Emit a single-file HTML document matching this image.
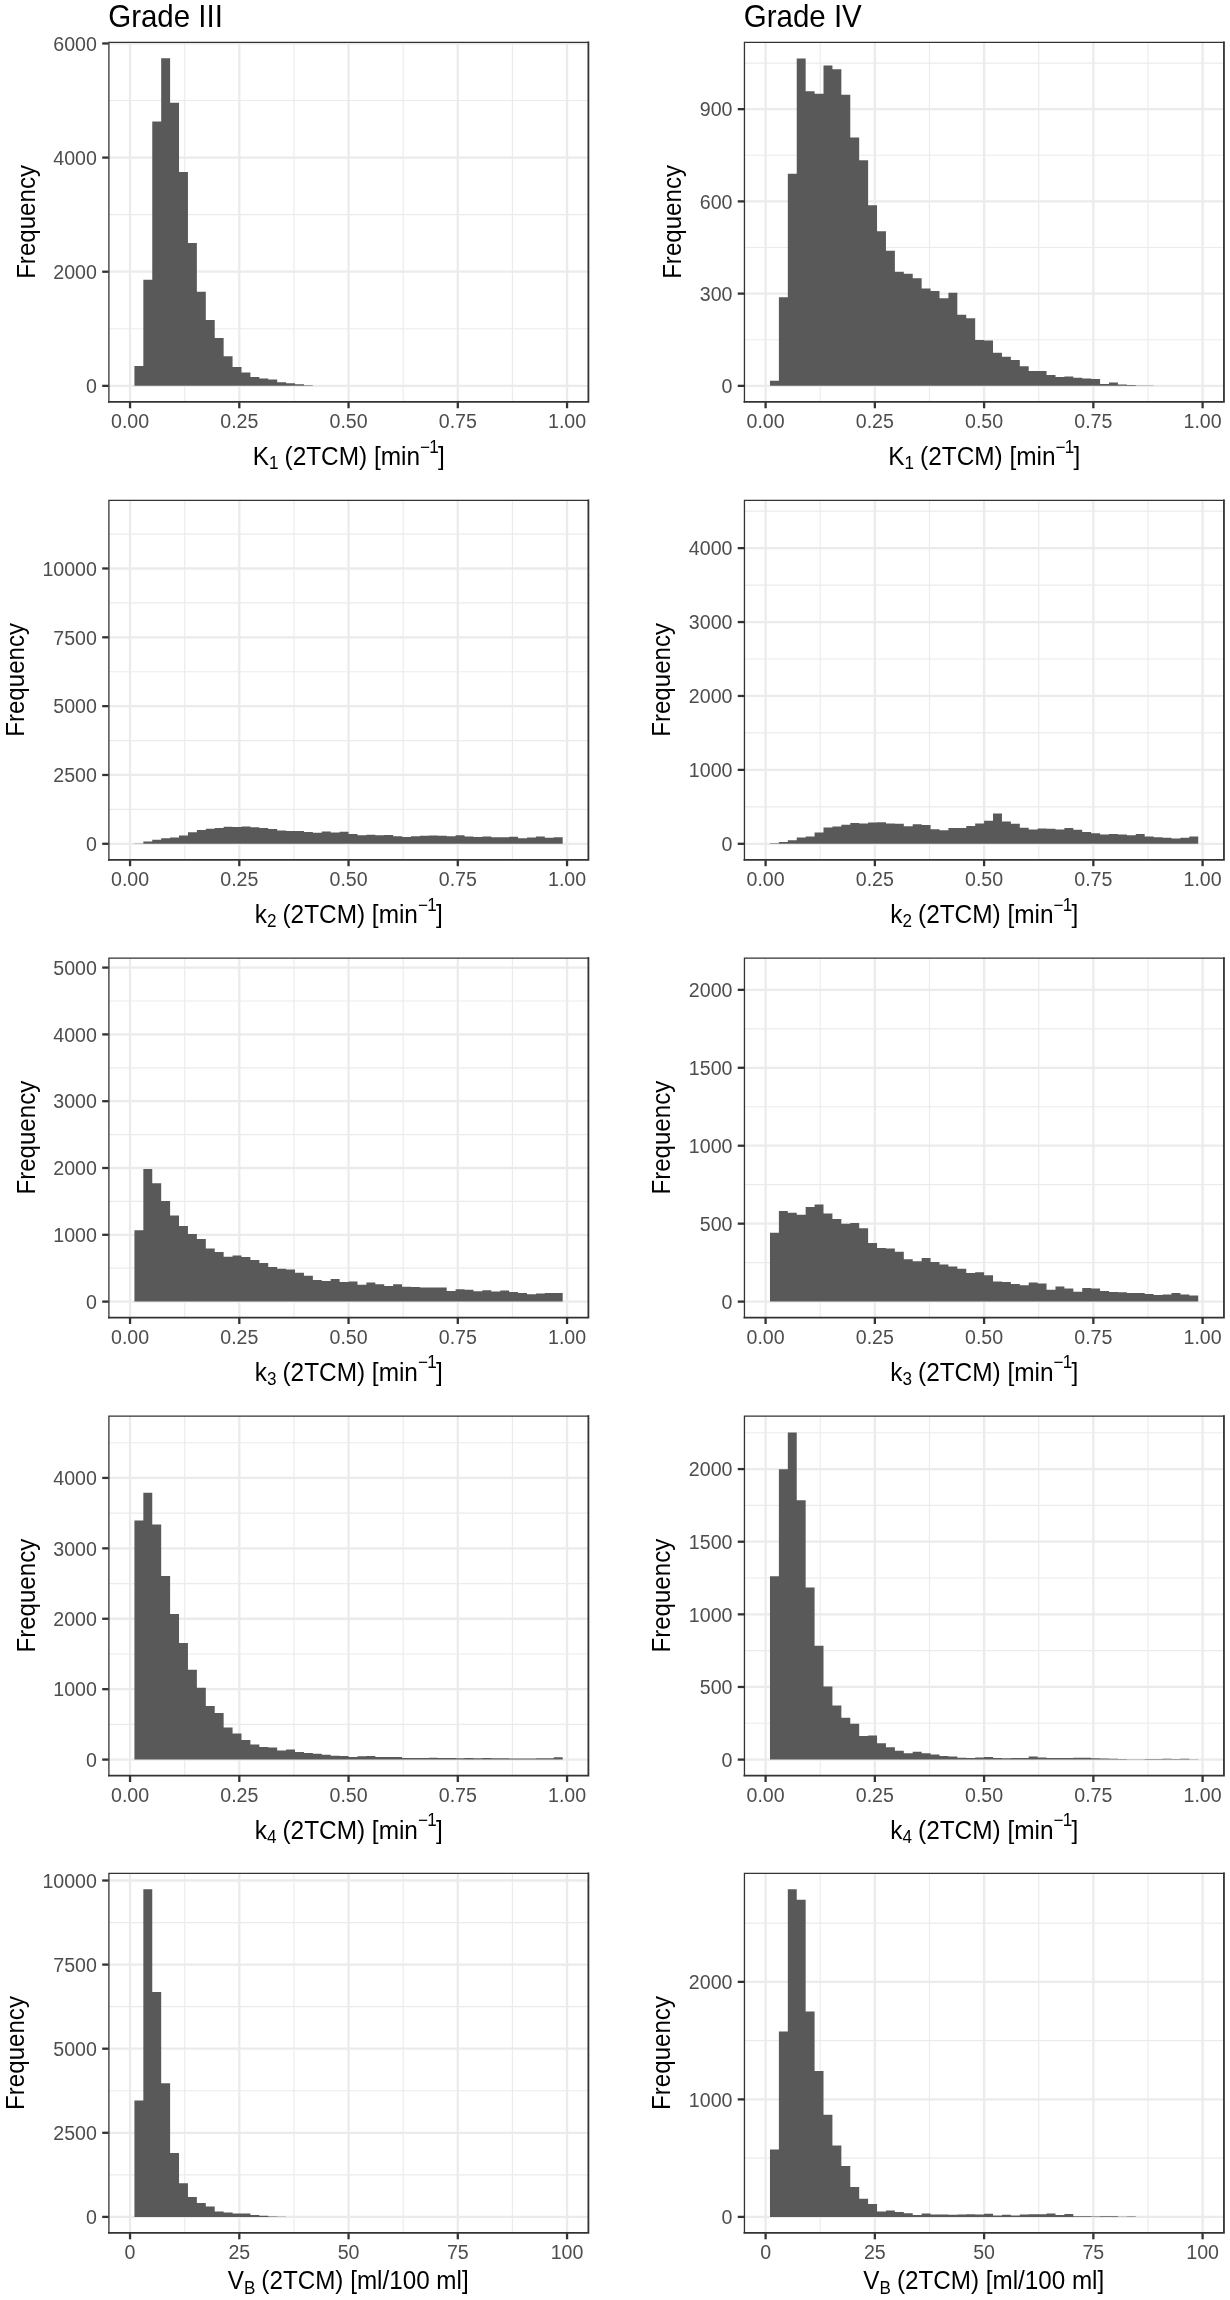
<!DOCTYPE html>
<html><head><meta charset="utf-8"><title>Histograms</title>
<style>
html,body{margin:0;padding:0;background:#ffffff;}
body{width:1230px;height:2300px;overflow:hidden;font-family:"Liberation Sans",sans-serif;}
svg{display:block;will-change:transform;}
</style></head><body>
<svg width="1230" height="2300" viewBox="0 0 1230 2300" font-family="'Liberation Sans', sans-serif">
<rect x="0" y="0" width="1230" height="2300" fill="#ffffff"/>
<g>
<g stroke="#ebebeb"><line x1="108.9" x2="588.3" y1="328.79" y2="328.79" stroke-width="1.16"/><line x1="108.9" x2="588.3" y1="214.66" y2="214.66" stroke-width="1.16"/><line x1="108.9" x2="588.3" y1="100.53" y2="100.53" stroke-width="1.16"/><line x1="184.68" x2="184.68" y1="42.35" y2="401.5" stroke-width="1.16"/><line x1="293.93" x2="293.93" y1="42.35" y2="401.5" stroke-width="1.16"/><line x1="403.18" x2="403.18" y1="42.35" y2="401.5" stroke-width="1.16"/><line x1="512.42" x2="512.42" y1="42.35" y2="401.5" stroke-width="1.16"/><line x1="108.9" x2="588.3" y1="385.85" y2="385.85" stroke-width="2.3"/><line x1="108.9" x2="588.3" y1="271.72" y2="271.72" stroke-width="2.3"/><line x1="108.9" x2="588.3" y1="157.59" y2="157.59" stroke-width="2.3"/><line x1="108.9" x2="588.3" y1="43.46" y2="43.46" stroke-width="2.3"/><line x1="130.05" x2="130.05" y1="42.35" y2="401.5" stroke-width="2.3"/><line x1="239.3" x2="239.3" y1="42.35" y2="401.5" stroke-width="2.3"/><line x1="348.55" x2="348.55" y1="42.35" y2="401.5" stroke-width="2.3"/><line x1="457.8" x2="457.8" y1="42.35" y2="401.5" stroke-width="2.3"/><line x1="567.05" x2="567.05" y1="42.35" y2="401.5" stroke-width="2.3"/></g>
<path d="M134.42 385.85V365.95H143.34V279.75H152.26V121.45H161.19V58.35H170.11V102.65H179.03V172.05H187.95V242.95H196.87V291.75H205.8V320.05H214.72V338.05H223.64V356.35H232.56V367.05H241.49V372.45H250.41V376.95H259.33V378.55H268.25V379.55H277.17V382.25H286.1V383.35H295.02V384.25H303.94V385.15H312.86V385.85H321.78V385.85H330.71V385.85H339.63V385.85H348.55V385.85H357.47V385.85H366.39V385.85H375.32V385.85H384.24V385.85H393.16V385.85H402.08V385.85H411V385.85H419.93V385.85H428.85V385.85H437.77V385.85H446.69V385.85H455.62V385.85H464.54V385.85H473.46V385.85H482.38V385.85H491.3V385.85H500.23V385.85H509.15V385.85H518.07V385.85H526.99V385.85H535.91V385.85H544.84V385.85H553.76V385.85H562.68V385.85Z" fill="#595959"/>
<g stroke="#333333" stroke-linecap="square"><path d="M108.9 401.85V42.35H588.3" fill="none" stroke-width="1.3"/><path d="M108.9 401.85H588.4V42.35" fill="none" stroke-width="1.8"/></g>
<g stroke="#333333" stroke-width="2.3"><line x1="102.2" x2="108.6" y1="385.85" y2="385.85"/><line x1="102.2" x2="108.6" y1="271.72" y2="271.72"/><line x1="102.2" x2="108.6" y1="157.59" y2="157.59"/><line x1="102.2" x2="108.6" y1="43.46" y2="43.46"/><line x1="130.05" x2="130.05" y1="402.25" y2="408.25"/><line x1="239.3" x2="239.3" y1="402.25" y2="408.25"/><line x1="348.55" x2="348.55" y1="402.25" y2="408.25"/><line x1="457.8" x2="457.8" y1="402.25" y2="408.25"/><line x1="567.05" x2="567.05" y1="402.25" y2="408.25"/></g>
<g fill="#4d4d4d" font-size="19.6"><text transform="translate(96.9 393.05) scale(1 1.04)" text-anchor="end">0</text><text transform="translate(96.9 278.92) scale(1 1.04)" text-anchor="end">2000</text><text transform="translate(96.9 164.79) scale(1 1.04)" text-anchor="end">4000</text><text transform="translate(96.9 50.66) scale(1 1.04)" text-anchor="end">6000</text><text transform="translate(130.05 427.85) scale(1 1.04)" text-anchor="middle">0.00</text><text transform="translate(239.3 427.85) scale(1 1.04)" text-anchor="middle">0.25</text><text transform="translate(348.55 427.85) scale(1 1.04)" text-anchor="middle">0.50</text><text transform="translate(457.8 427.85) scale(1 1.04)" text-anchor="middle">0.75</text><text transform="translate(567.05 427.85) scale(1 1.04)" text-anchor="middle">1.00</text></g>
<text transform="translate(348.75 464.95) scale(1 1.04)" text-anchor="middle" font-size="24.4" fill="#000">K<tspan font-size="17.08" dy="4.13" letter-spacing="-0.7">1</tspan><tspan dy="-4.13"> (2TCM) [min</tspan><tspan font-size="17.08" dy="-11.92" letter-spacing="-0.7">−1</tspan><tspan dy="11.92" dx="0">]</tspan></text>
<text transform="translate(34.51 221.93) rotate(-90) scale(1 1.04)" text-anchor="middle" font-size="24.1" fill="#000">Frequency</text>
<text transform="translate(108.2 27.4) scale(1 1.04)" font-size="29.5" fill="#000">Grade III</text>
</g>
<g>
<g stroke="#ebebeb"><line x1="744.45" x2="1223.85" y1="339.74" y2="339.74" stroke-width="1.16"/><line x1="744.45" x2="1223.85" y1="247.51" y2="247.51" stroke-width="1.16"/><line x1="744.45" x2="1223.85" y1="155.28" y2="155.28" stroke-width="1.16"/><line x1="744.45" x2="1223.85" y1="63.05" y2="63.05" stroke-width="1.16"/><line x1="820.22" x2="820.22" y1="42.35" y2="401.5" stroke-width="1.16"/><line x1="929.47" x2="929.47" y1="42.35" y2="401.5" stroke-width="1.16"/><line x1="1038.72" x2="1038.72" y1="42.35" y2="401.5" stroke-width="1.16"/><line x1="1147.97" x2="1147.97" y1="42.35" y2="401.5" stroke-width="1.16"/><line x1="744.45" x2="1223.85" y1="385.85" y2="385.85" stroke-width="2.3"/><line x1="744.45" x2="1223.85" y1="293.62" y2="293.62" stroke-width="2.3"/><line x1="744.45" x2="1223.85" y1="201.39" y2="201.39" stroke-width="2.3"/><line x1="744.45" x2="1223.85" y1="109.16" y2="109.16" stroke-width="2.3"/><line x1="765.6" x2="765.6" y1="42.35" y2="401.5" stroke-width="2.3"/><line x1="874.85" x2="874.85" y1="42.35" y2="401.5" stroke-width="2.3"/><line x1="984.1" x2="984.1" y1="42.35" y2="401.5" stroke-width="2.3"/><line x1="1093.35" x2="1093.35" y1="42.35" y2="401.5" stroke-width="2.3"/><line x1="1202.6" x2="1202.6" y1="42.35" y2="401.5" stroke-width="2.3"/></g>
<path d="M769.97 385.85V380.85H778.89V297.25H787.81V173.65H796.74V58.45H805.66V91.35H814.58V93.85H823.5V65.45H832.42V69.25H841.35V94.75H850.27V137.55H859.19V160.25H868.11V205.15H877.04V231.15H885.96V250.75H894.88V271.75H903.8V273.85H912.72V278.35H921.65V288.55H930.57V291.05H939.49V298.35H948.41V292.65H957.33V314.85H966.26V318.25H975.18V340.05H984.1V340.55H993.02V352.65H1001.94V356.85H1010.87V360.05H1019.79V366.35H1028.71V371.05H1037.63V371.05H1046.55V375.05H1055.48V376.95H1064.4V376.55H1073.32V377.85H1082.24V378.45H1091.16V379.05H1100.09V383.95H1109.01V382.45H1117.93V384.55H1126.85V385.05H1135.78V385.55H1144.7V385.45H1153.62V385.85H1162.54V385.85H1171.46V385.85H1180.39V385.85H1189.31V385.85H1198.23V385.85Z" fill="#595959"/>
<g stroke="#333333" stroke-linecap="square"><path d="M744.45 401.85V42.35H1223.85" fill="none" stroke-width="1.3"/><path d="M744.45 401.85H1223.95V42.35" fill="none" stroke-width="1.8"/></g>
<g stroke="#333333" stroke-width="2.3"><line x1="737.75" x2="744.15" y1="385.85" y2="385.85"/><line x1="737.75" x2="744.15" y1="293.62" y2="293.62"/><line x1="737.75" x2="744.15" y1="201.39" y2="201.39"/><line x1="737.75" x2="744.15" y1="109.16" y2="109.16"/><line x1="765.6" x2="765.6" y1="402.25" y2="408.25"/><line x1="874.85" x2="874.85" y1="402.25" y2="408.25"/><line x1="984.1" x2="984.1" y1="402.25" y2="408.25"/><line x1="1093.35" x2="1093.35" y1="402.25" y2="408.25"/><line x1="1202.6" x2="1202.6" y1="402.25" y2="408.25"/></g>
<g fill="#4d4d4d" font-size="19.6"><text transform="translate(732.45 393.05) scale(1 1.04)" text-anchor="end">0</text><text transform="translate(732.45 300.82) scale(1 1.04)" text-anchor="end">300</text><text transform="translate(732.45 208.59) scale(1 1.04)" text-anchor="end">600</text><text transform="translate(732.45 116.36) scale(1 1.04)" text-anchor="end">900</text><text transform="translate(765.6 427.85) scale(1 1.04)" text-anchor="middle">0.00</text><text transform="translate(874.85 427.85) scale(1 1.04)" text-anchor="middle">0.25</text><text transform="translate(984.1 427.85) scale(1 1.04)" text-anchor="middle">0.50</text><text transform="translate(1093.35 427.85) scale(1 1.04)" text-anchor="middle">0.75</text><text transform="translate(1202.6 427.85) scale(1 1.04)" text-anchor="middle">1.00</text></g>
<text transform="translate(984.3 464.95) scale(1 1.04)" text-anchor="middle" font-size="24.4" fill="#000">K<tspan font-size="17.08" dy="4.13" letter-spacing="-0.7">1</tspan><tspan dy="-4.13"> (2TCM) [min</tspan><tspan font-size="17.08" dy="-11.92" letter-spacing="-0.7">−1</tspan><tspan dy="11.92" dx="0">]</tspan></text>
<text transform="translate(680.96 221.93) rotate(-90) scale(1 1.04)" text-anchor="middle" font-size="24.1" fill="#000">Frequency</text>
<text transform="translate(743.75 27.4) scale(1 1.04)" font-size="29.5" fill="#000">Grade IV</text>
</g>
<g>
<g stroke="#ebebeb"><line x1="108.9" x2="588.3" y1="809.38" y2="809.38" stroke-width="1.16"/><line x1="108.9" x2="588.3" y1="740.55" y2="740.55" stroke-width="1.16"/><line x1="108.9" x2="588.3" y1="671.72" y2="671.72" stroke-width="1.16"/><line x1="108.9" x2="588.3" y1="602.89" y2="602.89" stroke-width="1.16"/><line x1="108.9" x2="588.3" y1="534.06" y2="534.06" stroke-width="1.16"/><line x1="184.68" x2="184.68" y1="500.3" y2="859.45" stroke-width="1.16"/><line x1="293.93" x2="293.93" y1="500.3" y2="859.45" stroke-width="1.16"/><line x1="403.18" x2="403.18" y1="500.3" y2="859.45" stroke-width="1.16"/><line x1="512.42" x2="512.42" y1="500.3" y2="859.45" stroke-width="1.16"/><line x1="108.9" x2="588.3" y1="843.8" y2="843.8" stroke-width="2.3"/><line x1="108.9" x2="588.3" y1="774.97" y2="774.97" stroke-width="2.3"/><line x1="108.9" x2="588.3" y1="706.14" y2="706.14" stroke-width="2.3"/><line x1="108.9" x2="588.3" y1="637.31" y2="637.31" stroke-width="2.3"/><line x1="108.9" x2="588.3" y1="568.48" y2="568.48" stroke-width="2.3"/><line x1="130.05" x2="130.05" y1="500.3" y2="859.45" stroke-width="2.3"/><line x1="239.3" x2="239.3" y1="500.3" y2="859.45" stroke-width="2.3"/><line x1="348.55" x2="348.55" y1="500.3" y2="859.45" stroke-width="2.3"/><line x1="457.8" x2="457.8" y1="500.3" y2="859.45" stroke-width="2.3"/><line x1="567.05" x2="567.05" y1="500.3" y2="859.45" stroke-width="2.3"/></g>
<path d="M134.42 843.8V843.4H143.34V841.5H152.26V839.7H161.19V838.3H170.11V837.4H179.03V835.6H187.95V832.2H196.87V830H205.8V828.8H214.72V827.9H223.64V826.8H232.56V827H241.49V826.4H250.41V827.2H259.33V828.1H268.25V829H277.17V830.4H286.1V830.9H295.02V831.1H303.94V832H312.86V832.7H321.78V831.5H330.71V832.4H339.63V831.7H348.55V833.9H357.47V835.3H366.39V834.7H375.32V835.3H384.24V834.9H393.16V836.2H402.08V837H411V836.2H419.93V835.8H428.85V835.6H437.77V835.8H446.69V836.2H455.62V835.3H464.54V836.4H473.46V837H482.38V836.4H491.3V837.2H500.23V837.2H509.15V836.8H518.07V838.3H526.99V837.5H535.91V836.6H544.84V837.7H553.76V837.2H562.68V843.8Z" fill="#595959"/>
<g stroke="#333333" stroke-linecap="square"><path d="M108.9 859.8V500.3H588.3" fill="none" stroke-width="1.3"/><path d="M108.9 859.8H588.4V500.3" fill="none" stroke-width="1.8"/></g>
<g stroke="#333333" stroke-width="2.3"><line x1="102.2" x2="108.6" y1="843.8" y2="843.8"/><line x1="102.2" x2="108.6" y1="774.97" y2="774.97"/><line x1="102.2" x2="108.6" y1="706.14" y2="706.14"/><line x1="102.2" x2="108.6" y1="637.31" y2="637.31"/><line x1="102.2" x2="108.6" y1="568.48" y2="568.48"/><line x1="130.05" x2="130.05" y1="860.2" y2="866.2"/><line x1="239.3" x2="239.3" y1="860.2" y2="866.2"/><line x1="348.55" x2="348.55" y1="860.2" y2="866.2"/><line x1="457.8" x2="457.8" y1="860.2" y2="866.2"/><line x1="567.05" x2="567.05" y1="860.2" y2="866.2"/></g>
<g fill="#4d4d4d" font-size="19.6"><text transform="translate(96.9 851) scale(1 1.04)" text-anchor="end">0</text><text transform="translate(96.9 782.17) scale(1 1.04)" text-anchor="end">2500</text><text transform="translate(96.9 713.34) scale(1 1.04)" text-anchor="end">5000</text><text transform="translate(96.9 644.51) scale(1 1.04)" text-anchor="end">7500</text><text transform="translate(96.9 575.68) scale(1 1.04)" text-anchor="end">10000</text><text transform="translate(130.05 885.8) scale(1 1.04)" text-anchor="middle">0.00</text><text transform="translate(239.3 885.8) scale(1 1.04)" text-anchor="middle">0.25</text><text transform="translate(348.55 885.8) scale(1 1.04)" text-anchor="middle">0.50</text><text transform="translate(457.8 885.8) scale(1 1.04)" text-anchor="middle">0.75</text><text transform="translate(567.05 885.8) scale(1 1.04)" text-anchor="middle">1.00</text></g>
<text transform="translate(348.75 922.9) scale(1 1.04)" text-anchor="middle" font-size="24.4" fill="#000">k<tspan font-size="17.08" dy="4.13" letter-spacing="-0.7">2</tspan><tspan dy="-4.13"> (2TCM) [min</tspan><tspan font-size="17.08" dy="-11.92" letter-spacing="-0.7">−1</tspan><tspan dy="11.92" dx="0">]</tspan></text>
<text transform="translate(23.61 679.88) rotate(-90) scale(1 1.04)" text-anchor="middle" font-size="24.1" fill="#000">Frequency</text>
</g>
<g>
<g stroke="#ebebeb"><line x1="744.45" x2="1223.85" y1="806.84" y2="806.84" stroke-width="1.16"/><line x1="744.45" x2="1223.85" y1="732.92" y2="732.92" stroke-width="1.16"/><line x1="744.45" x2="1223.85" y1="659" y2="659" stroke-width="1.16"/><line x1="744.45" x2="1223.85" y1="585.08" y2="585.08" stroke-width="1.16"/><line x1="744.45" x2="1223.85" y1="511.16" y2="511.16" stroke-width="1.16"/><line x1="820.22" x2="820.22" y1="500.3" y2="859.45" stroke-width="1.16"/><line x1="929.47" x2="929.47" y1="500.3" y2="859.45" stroke-width="1.16"/><line x1="1038.72" x2="1038.72" y1="500.3" y2="859.45" stroke-width="1.16"/><line x1="1147.97" x2="1147.97" y1="500.3" y2="859.45" stroke-width="1.16"/><line x1="744.45" x2="1223.85" y1="843.8" y2="843.8" stroke-width="2.3"/><line x1="744.45" x2="1223.85" y1="769.88" y2="769.88" stroke-width="2.3"/><line x1="744.45" x2="1223.85" y1="695.96" y2="695.96" stroke-width="2.3"/><line x1="744.45" x2="1223.85" y1="622.04" y2="622.04" stroke-width="2.3"/><line x1="744.45" x2="1223.85" y1="548.12" y2="548.12" stroke-width="2.3"/><line x1="765.6" x2="765.6" y1="500.3" y2="859.45" stroke-width="2.3"/><line x1="874.85" x2="874.85" y1="500.3" y2="859.45" stroke-width="2.3"/><line x1="984.1" x2="984.1" y1="500.3" y2="859.45" stroke-width="2.3"/><line x1="1093.35" x2="1093.35" y1="500.3" y2="859.45" stroke-width="2.3"/><line x1="1202.6" x2="1202.6" y1="500.3" y2="859.45" stroke-width="2.3"/></g>
<path d="M769.97 843.8V843.3H778.89V842H787.81V840.2H796.74V837.5H805.66V836.5H814.58V832.4H823.5V827.5H832.42V826.4H841.35V824.8H850.27V822.9H859.19V823.6H868.11V822.5H877.04V822.2H885.96V823.4H894.88V823.8H903.8V826.3H912.72V824.3H921.65V825H930.57V829.3H939.49V830.2H948.41V828.1H957.33V828.1H966.26V826.1H975.18V823.4H984.1V820.8H993.02V813.4H1001.94V821.4H1010.87V823.7H1019.79V827.7H1028.71V829.4H1037.63V828.4H1046.55V828.8H1055.48V829.4H1064.4V827.9H1073.32V829.8H1082.24V832H1091.16V833.2H1100.09V834.5H1109.01V833.9H1117.93V834.5H1126.85V835.3H1135.78V833.9H1144.7V836.4H1153.62V837.2H1162.54V837.7H1171.46V838.5H1180.39V837.7H1189.31V836.6H1198.23V843.8Z" fill="#595959"/>
<g stroke="#333333" stroke-linecap="square"><path d="M744.45 859.8V500.3H1223.85" fill="none" stroke-width="1.3"/><path d="M744.45 859.8H1223.95V500.3" fill="none" stroke-width="1.8"/></g>
<g stroke="#333333" stroke-width="2.3"><line x1="737.75" x2="744.15" y1="843.8" y2="843.8"/><line x1="737.75" x2="744.15" y1="769.88" y2="769.88"/><line x1="737.75" x2="744.15" y1="695.96" y2="695.96"/><line x1="737.75" x2="744.15" y1="622.04" y2="622.04"/><line x1="737.75" x2="744.15" y1="548.12" y2="548.12"/><line x1="765.6" x2="765.6" y1="860.2" y2="866.2"/><line x1="874.85" x2="874.85" y1="860.2" y2="866.2"/><line x1="984.1" x2="984.1" y1="860.2" y2="866.2"/><line x1="1093.35" x2="1093.35" y1="860.2" y2="866.2"/><line x1="1202.6" x2="1202.6" y1="860.2" y2="866.2"/></g>
<g fill="#4d4d4d" font-size="19.6"><text transform="translate(732.45 851) scale(1 1.04)" text-anchor="end">0</text><text transform="translate(732.45 777.08) scale(1 1.04)" text-anchor="end">1000</text><text transform="translate(732.45 703.16) scale(1 1.04)" text-anchor="end">2000</text><text transform="translate(732.45 629.24) scale(1 1.04)" text-anchor="end">3000</text><text transform="translate(732.45 555.32) scale(1 1.04)" text-anchor="end">4000</text><text transform="translate(765.6 885.8) scale(1 1.04)" text-anchor="middle">0.00</text><text transform="translate(874.85 885.8) scale(1 1.04)" text-anchor="middle">0.25</text><text transform="translate(984.1 885.8) scale(1 1.04)" text-anchor="middle">0.50</text><text transform="translate(1093.35 885.8) scale(1 1.04)" text-anchor="middle">0.75</text><text transform="translate(1202.6 885.8) scale(1 1.04)" text-anchor="middle">1.00</text></g>
<text transform="translate(984.3 922.9) scale(1 1.04)" text-anchor="middle" font-size="24.4" fill="#000">k<tspan font-size="17.08" dy="4.13" letter-spacing="-0.7">2</tspan><tspan dy="-4.13"> (2TCM) [min</tspan><tspan font-size="17.08" dy="-11.92" letter-spacing="-0.7">−1</tspan><tspan dy="11.92" dx="0">]</tspan></text>
<text transform="translate(670.06 679.88) rotate(-90) scale(1 1.04)" text-anchor="middle" font-size="24.1" fill="#000">Frequency</text>
</g>
<g>
<g stroke="#ebebeb"><line x1="108.9" x2="588.3" y1="1268.2" y2="1268.2" stroke-width="1.16"/><line x1="108.9" x2="588.3" y1="1201.4" y2="1201.4" stroke-width="1.16"/><line x1="108.9" x2="588.3" y1="1134.6" y2="1134.6" stroke-width="1.16"/><line x1="108.9" x2="588.3" y1="1067.8" y2="1067.8" stroke-width="1.16"/><line x1="108.9" x2="588.3" y1="1001" y2="1001" stroke-width="1.16"/><line x1="184.68" x2="184.68" y1="958.1" y2="1317.25" stroke-width="1.16"/><line x1="293.93" x2="293.93" y1="958.1" y2="1317.25" stroke-width="1.16"/><line x1="403.18" x2="403.18" y1="958.1" y2="1317.25" stroke-width="1.16"/><line x1="512.42" x2="512.42" y1="958.1" y2="1317.25" stroke-width="1.16"/><line x1="108.9" x2="588.3" y1="1301.6" y2="1301.6" stroke-width="2.3"/><line x1="108.9" x2="588.3" y1="1234.8" y2="1234.8" stroke-width="2.3"/><line x1="108.9" x2="588.3" y1="1168" y2="1168" stroke-width="2.3"/><line x1="108.9" x2="588.3" y1="1101.2" y2="1101.2" stroke-width="2.3"/><line x1="108.9" x2="588.3" y1="1034.4" y2="1034.4" stroke-width="2.3"/><line x1="108.9" x2="588.3" y1="967.6" y2="967.6" stroke-width="2.3"/><line x1="130.05" x2="130.05" y1="958.1" y2="1317.25" stroke-width="2.3"/><line x1="239.3" x2="239.3" y1="958.1" y2="1317.25" stroke-width="2.3"/><line x1="348.55" x2="348.55" y1="958.1" y2="1317.25" stroke-width="2.3"/><line x1="457.8" x2="457.8" y1="958.1" y2="1317.25" stroke-width="2.3"/><line x1="567.05" x2="567.05" y1="958.1" y2="1317.25" stroke-width="2.3"/></g>
<path d="M134.42 1301.6V1230.2H143.34V1169H152.26V1183.2H161.19V1201.1H170.11V1215.6H179.03V1225.9H187.95V1234H196.87V1239H205.8V1248.6H214.72V1252H223.64V1256.7H232.56V1255.6H241.49V1257.1H250.41V1260.1H259.33V1263.1H268.25V1266.9H277.17V1268.7H286.1V1269.6H295.02V1272.8H303.94V1275.7H312.86V1280H321.78V1281H330.71V1279.1H339.63V1282.1H348.55V1281.5H357.47V1284.7H366.39V1282.6H375.32V1284.3H384.24V1286H393.16V1284.3H402.08V1286.8H411V1287H419.93V1287.4H428.85V1287.6H437.77V1287.6H446.69V1291H455.62V1289.3H464.54V1289.8H473.46V1291.2H482.38V1290.2H491.3V1291.5H500.23V1290.4H509.15V1291.9H518.07V1293.1H526.99V1294.2H535.91V1293.4H544.84V1293.1H553.76V1293.1H562.68V1301.6Z" fill="#595959"/>
<g stroke="#333333" stroke-linecap="square"><path d="M108.9 1317.6V958.1H588.3" fill="none" stroke-width="1.3"/><path d="M108.9 1317.6H588.4V958.1" fill="none" stroke-width="1.8"/></g>
<g stroke="#333333" stroke-width="2.3"><line x1="102.2" x2="108.6" y1="1301.6" y2="1301.6"/><line x1="102.2" x2="108.6" y1="1234.8" y2="1234.8"/><line x1="102.2" x2="108.6" y1="1168" y2="1168"/><line x1="102.2" x2="108.6" y1="1101.2" y2="1101.2"/><line x1="102.2" x2="108.6" y1="1034.4" y2="1034.4"/><line x1="102.2" x2="108.6" y1="967.6" y2="967.6"/><line x1="130.05" x2="130.05" y1="1318" y2="1324"/><line x1="239.3" x2="239.3" y1="1318" y2="1324"/><line x1="348.55" x2="348.55" y1="1318" y2="1324"/><line x1="457.8" x2="457.8" y1="1318" y2="1324"/><line x1="567.05" x2="567.05" y1="1318" y2="1324"/></g>
<g fill="#4d4d4d" font-size="19.6"><text transform="translate(96.9 1308.8) scale(1 1.04)" text-anchor="end">0</text><text transform="translate(96.9 1242) scale(1 1.04)" text-anchor="end">1000</text><text transform="translate(96.9 1175.2) scale(1 1.04)" text-anchor="end">2000</text><text transform="translate(96.9 1108.4) scale(1 1.04)" text-anchor="end">3000</text><text transform="translate(96.9 1041.6) scale(1 1.04)" text-anchor="end">4000</text><text transform="translate(96.9 974.8) scale(1 1.04)" text-anchor="end">5000</text><text transform="translate(130.05 1343.6) scale(1 1.04)" text-anchor="middle">0.00</text><text transform="translate(239.3 1343.6) scale(1 1.04)" text-anchor="middle">0.25</text><text transform="translate(348.55 1343.6) scale(1 1.04)" text-anchor="middle">0.50</text><text transform="translate(457.8 1343.6) scale(1 1.04)" text-anchor="middle">0.75</text><text transform="translate(567.05 1343.6) scale(1 1.04)" text-anchor="middle">1.00</text></g>
<text transform="translate(348.75 1380.7) scale(1 1.04)" text-anchor="middle" font-size="24.4" fill="#000">k<tspan font-size="17.08" dy="4.13" letter-spacing="-0.7">3</tspan><tspan dy="-4.13"> (2TCM) [min</tspan><tspan font-size="17.08" dy="-11.92" letter-spacing="-0.7">−1</tspan><tspan dy="11.92" dx="0">]</tspan></text>
<text transform="translate(34.51 1137.67) rotate(-90) scale(1 1.04)" text-anchor="middle" font-size="24.1" fill="#000">Frequency</text>
</g>
<g>
<g stroke="#ebebeb"><line x1="744.45" x2="1223.85" y1="1262.63" y2="1262.63" stroke-width="1.16"/><line x1="744.45" x2="1223.85" y1="1184.69" y2="1184.69" stroke-width="1.16"/><line x1="744.45" x2="1223.85" y1="1106.75" y2="1106.75" stroke-width="1.16"/><line x1="744.45" x2="1223.85" y1="1028.81" y2="1028.81" stroke-width="1.16"/><line x1="820.22" x2="820.22" y1="958.1" y2="1317.25" stroke-width="1.16"/><line x1="929.47" x2="929.47" y1="958.1" y2="1317.25" stroke-width="1.16"/><line x1="1038.72" x2="1038.72" y1="958.1" y2="1317.25" stroke-width="1.16"/><line x1="1147.97" x2="1147.97" y1="958.1" y2="1317.25" stroke-width="1.16"/><line x1="744.45" x2="1223.85" y1="1301.6" y2="1301.6" stroke-width="2.3"/><line x1="744.45" x2="1223.85" y1="1223.66" y2="1223.66" stroke-width="2.3"/><line x1="744.45" x2="1223.85" y1="1145.72" y2="1145.72" stroke-width="2.3"/><line x1="744.45" x2="1223.85" y1="1067.78" y2="1067.78" stroke-width="2.3"/><line x1="744.45" x2="1223.85" y1="989.84" y2="989.84" stroke-width="2.3"/><line x1="765.6" x2="765.6" y1="958.1" y2="1317.25" stroke-width="2.3"/><line x1="874.85" x2="874.85" y1="958.1" y2="1317.25" stroke-width="2.3"/><line x1="984.1" x2="984.1" y1="958.1" y2="1317.25" stroke-width="2.3"/><line x1="1093.35" x2="1093.35" y1="958.1" y2="1317.25" stroke-width="2.3"/><line x1="1202.6" x2="1202.6" y1="958.1" y2="1317.25" stroke-width="2.3"/></g>
<path d="M769.97 1301.6V1232.7H778.89V1210.9H787.81V1212.7H796.74V1214.8H805.66V1207H814.58V1204.5H823.5V1213.6H832.42V1219H841.35V1223.8H850.27V1222.9H859.19V1228.3H868.11V1242.9H877.04V1247.9H885.96V1248.6H894.88V1251.7H903.8V1259.2H912.72V1261.2H921.65V1258.1H930.57V1262.1H939.49V1264.4H948.41V1266.5H957.33V1268.7H966.26V1273H975.18V1272.3H984.1V1275.2H993.02V1281.5H1001.94V1282.1H1010.87V1284.1H1019.79V1285.3H1028.71V1282.6H1037.63V1283.6H1046.55V1289.8H1055.48V1286.6H1064.4V1288.5H1073.32V1291.7H1082.24V1287.9H1091.16V1288.5H1100.09V1291H1109.01V1291.9H1117.93V1292.3H1126.85V1293.1H1135.78V1292.9H1144.7V1294H1153.62V1295H1162.54V1294.6H1171.46V1293.1H1180.39V1294.4H1189.31V1295.5H1198.23V1301.6Z" fill="#595959"/>
<g stroke="#333333" stroke-linecap="square"><path d="M744.45 1317.6V958.1H1223.85" fill="none" stroke-width="1.3"/><path d="M744.45 1317.6H1223.95V958.1" fill="none" stroke-width="1.8"/></g>
<g stroke="#333333" stroke-width="2.3"><line x1="737.75" x2="744.15" y1="1301.6" y2="1301.6"/><line x1="737.75" x2="744.15" y1="1223.66" y2="1223.66"/><line x1="737.75" x2="744.15" y1="1145.72" y2="1145.72"/><line x1="737.75" x2="744.15" y1="1067.78" y2="1067.78"/><line x1="737.75" x2="744.15" y1="989.84" y2="989.84"/><line x1="765.6" x2="765.6" y1="1318" y2="1324"/><line x1="874.85" x2="874.85" y1="1318" y2="1324"/><line x1="984.1" x2="984.1" y1="1318" y2="1324"/><line x1="1093.35" x2="1093.35" y1="1318" y2="1324"/><line x1="1202.6" x2="1202.6" y1="1318" y2="1324"/></g>
<g fill="#4d4d4d" font-size="19.6"><text transform="translate(732.45 1308.8) scale(1 1.04)" text-anchor="end">0</text><text transform="translate(732.45 1230.86) scale(1 1.04)" text-anchor="end">500</text><text transform="translate(732.45 1152.92) scale(1 1.04)" text-anchor="end">1000</text><text transform="translate(732.45 1074.98) scale(1 1.04)" text-anchor="end">1500</text><text transform="translate(732.45 997.04) scale(1 1.04)" text-anchor="end">2000</text><text transform="translate(765.6 1343.6) scale(1 1.04)" text-anchor="middle">0.00</text><text transform="translate(874.85 1343.6) scale(1 1.04)" text-anchor="middle">0.25</text><text transform="translate(984.1 1343.6) scale(1 1.04)" text-anchor="middle">0.50</text><text transform="translate(1093.35 1343.6) scale(1 1.04)" text-anchor="middle">0.75</text><text transform="translate(1202.6 1343.6) scale(1 1.04)" text-anchor="middle">1.00</text></g>
<text transform="translate(984.3 1380.7) scale(1 1.04)" text-anchor="middle" font-size="24.4" fill="#000">k<tspan font-size="17.08" dy="4.13" letter-spacing="-0.7">3</tspan><tspan dy="-4.13"> (2TCM) [min</tspan><tspan font-size="17.08" dy="-11.92" letter-spacing="-0.7">−1</tspan><tspan dy="11.92" dx="0">]</tspan></text>
<text transform="translate(670.06 1137.67) rotate(-90) scale(1 1.04)" text-anchor="middle" font-size="24.1" fill="#000">Frequency</text>
</g>
<g>
<g stroke="#ebebeb"><line x1="108.9" x2="588.3" y1="1724.39" y2="1724.39" stroke-width="1.16"/><line x1="108.9" x2="588.3" y1="1653.97" y2="1653.97" stroke-width="1.16"/><line x1="108.9" x2="588.3" y1="1583.55" y2="1583.55" stroke-width="1.16"/><line x1="108.9" x2="588.3" y1="1513.13" y2="1513.13" stroke-width="1.16"/><line x1="108.9" x2="588.3" y1="1442.71" y2="1442.71" stroke-width="1.16"/><line x1="184.68" x2="184.68" y1="1416.1" y2="1775.25" stroke-width="1.16"/><line x1="293.93" x2="293.93" y1="1416.1" y2="1775.25" stroke-width="1.16"/><line x1="403.18" x2="403.18" y1="1416.1" y2="1775.25" stroke-width="1.16"/><line x1="512.42" x2="512.42" y1="1416.1" y2="1775.25" stroke-width="1.16"/><line x1="108.9" x2="588.3" y1="1759.6" y2="1759.6" stroke-width="2.3"/><line x1="108.9" x2="588.3" y1="1689.18" y2="1689.18" stroke-width="2.3"/><line x1="108.9" x2="588.3" y1="1618.76" y2="1618.76" stroke-width="2.3"/><line x1="108.9" x2="588.3" y1="1548.34" y2="1548.34" stroke-width="2.3"/><line x1="108.9" x2="588.3" y1="1477.92" y2="1477.92" stroke-width="2.3"/><line x1="130.05" x2="130.05" y1="1416.1" y2="1775.25" stroke-width="2.3"/><line x1="239.3" x2="239.3" y1="1416.1" y2="1775.25" stroke-width="2.3"/><line x1="348.55" x2="348.55" y1="1416.1" y2="1775.25" stroke-width="2.3"/><line x1="457.8" x2="457.8" y1="1416.1" y2="1775.25" stroke-width="2.3"/><line x1="567.05" x2="567.05" y1="1416.1" y2="1775.25" stroke-width="2.3"/></g>
<path d="M134.42 1759.6V1520.4H143.34V1492.7H152.26V1524.5H161.19V1576.1H170.11V1614H179.03V1643H187.95V1669.8H196.87V1687.7H205.8V1705.9H214.72V1713.1H223.64V1727.4H232.56V1733.5H241.49V1739.9H250.41V1744.4H259.33V1746.9H268.25V1747.6H277.17V1750.5H286.1V1749.6H295.02V1752.1H303.94V1753H312.86V1753.7H321.78V1754.8H330.71V1755.8H339.63V1756H348.55V1757.1H357.47V1756.2H366.39V1756H375.32V1756.9H384.24V1756.9H393.16V1757.1H402.08V1757.9H411V1758.1H419.93V1757.9H428.85V1757.7H437.77V1758.1H446.69V1757.9H455.62V1758.3H464.54V1758.1H473.46V1758.3H482.38V1757.9H491.3V1758.3H500.23V1758.3H509.15V1758.5H518.07V1758.5H526.99V1758.5H535.91V1758.3H544.84V1758.3H553.76V1757.3H562.68V1759.6Z" fill="#595959"/>
<g stroke="#333333" stroke-linecap="square"><path d="M108.9 1775.6V1416.1H588.3" fill="none" stroke-width="1.3"/><path d="M108.9 1775.6H588.4V1416.1" fill="none" stroke-width="1.8"/></g>
<g stroke="#333333" stroke-width="2.3"><line x1="102.2" x2="108.6" y1="1759.6" y2="1759.6"/><line x1="102.2" x2="108.6" y1="1689.18" y2="1689.18"/><line x1="102.2" x2="108.6" y1="1618.76" y2="1618.76"/><line x1="102.2" x2="108.6" y1="1548.34" y2="1548.34"/><line x1="102.2" x2="108.6" y1="1477.92" y2="1477.92"/><line x1="130.05" x2="130.05" y1="1776" y2="1782"/><line x1="239.3" x2="239.3" y1="1776" y2="1782"/><line x1="348.55" x2="348.55" y1="1776" y2="1782"/><line x1="457.8" x2="457.8" y1="1776" y2="1782"/><line x1="567.05" x2="567.05" y1="1776" y2="1782"/></g>
<g fill="#4d4d4d" font-size="19.6"><text transform="translate(96.9 1766.8) scale(1 1.04)" text-anchor="end">0</text><text transform="translate(96.9 1696.38) scale(1 1.04)" text-anchor="end">1000</text><text transform="translate(96.9 1625.96) scale(1 1.04)" text-anchor="end">2000</text><text transform="translate(96.9 1555.54) scale(1 1.04)" text-anchor="end">3000</text><text transform="translate(96.9 1485.12) scale(1 1.04)" text-anchor="end">4000</text><text transform="translate(130.05 1801.6) scale(1 1.04)" text-anchor="middle">0.00</text><text transform="translate(239.3 1801.6) scale(1 1.04)" text-anchor="middle">0.25</text><text transform="translate(348.55 1801.6) scale(1 1.04)" text-anchor="middle">0.50</text><text transform="translate(457.8 1801.6) scale(1 1.04)" text-anchor="middle">0.75</text><text transform="translate(567.05 1801.6) scale(1 1.04)" text-anchor="middle">1.00</text></g>
<text transform="translate(348.75 1838.7) scale(1 1.04)" text-anchor="middle" font-size="24.4" fill="#000">k<tspan font-size="17.08" dy="4.13" letter-spacing="-0.7">4</tspan><tspan dy="-4.13"> (2TCM) [min</tspan><tspan font-size="17.08" dy="-11.92" letter-spacing="-0.7">−1</tspan><tspan dy="11.92" dx="0">]</tspan></text>
<text transform="translate(34.51 1595.67) rotate(-90) scale(1 1.04)" text-anchor="middle" font-size="24.1" fill="#000">Frequency</text>
</g>
<g>
<g stroke="#ebebeb"><line x1="744.45" x2="1223.85" y1="1723.28" y2="1723.28" stroke-width="1.16"/><line x1="744.45" x2="1223.85" y1="1650.65" y2="1650.65" stroke-width="1.16"/><line x1="744.45" x2="1223.85" y1="1578.02" y2="1578.02" stroke-width="1.16"/><line x1="744.45" x2="1223.85" y1="1505.39" y2="1505.39" stroke-width="1.16"/><line x1="744.45" x2="1223.85" y1="1432.76" y2="1432.76" stroke-width="1.16"/><line x1="820.22" x2="820.22" y1="1416.1" y2="1775.25" stroke-width="1.16"/><line x1="929.47" x2="929.47" y1="1416.1" y2="1775.25" stroke-width="1.16"/><line x1="1038.72" x2="1038.72" y1="1416.1" y2="1775.25" stroke-width="1.16"/><line x1="1147.97" x2="1147.97" y1="1416.1" y2="1775.25" stroke-width="1.16"/><line x1="744.45" x2="1223.85" y1="1759.6" y2="1759.6" stroke-width="2.3"/><line x1="744.45" x2="1223.85" y1="1686.97" y2="1686.97" stroke-width="2.3"/><line x1="744.45" x2="1223.85" y1="1614.34" y2="1614.34" stroke-width="2.3"/><line x1="744.45" x2="1223.85" y1="1541.71" y2="1541.71" stroke-width="2.3"/><line x1="744.45" x2="1223.85" y1="1469.08" y2="1469.08" stroke-width="2.3"/><line x1="765.6" x2="765.6" y1="1416.1" y2="1775.25" stroke-width="2.3"/><line x1="874.85" x2="874.85" y1="1416.1" y2="1775.25" stroke-width="2.3"/><line x1="984.1" x2="984.1" y1="1416.1" y2="1775.25" stroke-width="2.3"/><line x1="1093.35" x2="1093.35" y1="1416.1" y2="1775.25" stroke-width="2.3"/><line x1="1202.6" x2="1202.6" y1="1416.1" y2="1775.25" stroke-width="2.3"/></g>
<path d="M769.97 1759.6V1576.2H778.89V1469.3H787.81V1432.4H796.74V1500.2H805.66V1587.5H814.58V1645.8H823.5V1686.4H832.42V1705.4H841.35V1717.7H850.27V1723.8H859.19V1736H868.11V1735.4H877.04V1743.3H885.96V1747.3H894.88V1750.7H903.8V1753.2H912.72V1751.7H921.65V1753.3H930.57V1754.4H939.49V1756H948.41V1756.4H957.33V1757.8H966.26V1758.1H975.18V1757.6H984.1V1756.9H993.02V1757.9H1001.94V1758.3H1010.87V1757.9H1019.79V1757.9H1028.71V1756.6H1037.63V1757.5H1046.55V1757.9H1055.48V1758.1H1064.4V1757.9H1073.32V1757.7H1082.24V1757.7H1091.16V1758.3H1100.09V1758.5H1109.01V1758.8H1117.93V1759H1126.85V1759.2H1135.78V1759.2H1144.7V1759H1153.62V1759H1162.54V1758.8H1171.46V1759H1180.39V1758.8H1189.31V1759.2H1198.23V1759.6Z" fill="#595959"/>
<g stroke="#333333" stroke-linecap="square"><path d="M744.45 1775.6V1416.1H1223.85" fill="none" stroke-width="1.3"/><path d="M744.45 1775.6H1223.95V1416.1" fill="none" stroke-width="1.8"/></g>
<g stroke="#333333" stroke-width="2.3"><line x1="737.75" x2="744.15" y1="1759.6" y2="1759.6"/><line x1="737.75" x2="744.15" y1="1686.97" y2="1686.97"/><line x1="737.75" x2="744.15" y1="1614.34" y2="1614.34"/><line x1="737.75" x2="744.15" y1="1541.71" y2="1541.71"/><line x1="737.75" x2="744.15" y1="1469.08" y2="1469.08"/><line x1="765.6" x2="765.6" y1="1776" y2="1782"/><line x1="874.85" x2="874.85" y1="1776" y2="1782"/><line x1="984.1" x2="984.1" y1="1776" y2="1782"/><line x1="1093.35" x2="1093.35" y1="1776" y2="1782"/><line x1="1202.6" x2="1202.6" y1="1776" y2="1782"/></g>
<g fill="#4d4d4d" font-size="19.6"><text transform="translate(732.45 1766.8) scale(1 1.04)" text-anchor="end">0</text><text transform="translate(732.45 1694.17) scale(1 1.04)" text-anchor="end">500</text><text transform="translate(732.45 1621.54) scale(1 1.04)" text-anchor="end">1000</text><text transform="translate(732.45 1548.91) scale(1 1.04)" text-anchor="end">1500</text><text transform="translate(732.45 1476.28) scale(1 1.04)" text-anchor="end">2000</text><text transform="translate(765.6 1801.6) scale(1 1.04)" text-anchor="middle">0.00</text><text transform="translate(874.85 1801.6) scale(1 1.04)" text-anchor="middle">0.25</text><text transform="translate(984.1 1801.6) scale(1 1.04)" text-anchor="middle">0.50</text><text transform="translate(1093.35 1801.6) scale(1 1.04)" text-anchor="middle">0.75</text><text transform="translate(1202.6 1801.6) scale(1 1.04)" text-anchor="middle">1.00</text></g>
<text transform="translate(984.3 1838.7) scale(1 1.04)" text-anchor="middle" font-size="24.4" fill="#000">k<tspan font-size="17.08" dy="4.13" letter-spacing="-0.7">4</tspan><tspan dy="-4.13"> (2TCM) [min</tspan><tspan font-size="17.08" dy="-11.92" letter-spacing="-0.7">−1</tspan><tspan dy="11.92" dx="0">]</tspan></text>
<text transform="translate(670.06 1595.67) rotate(-90) scale(1 1.04)" text-anchor="middle" font-size="24.1" fill="#000">Frequency</text>
</g>
<g>
<g stroke="#ebebeb"><line x1="108.9" x2="588.3" y1="2174.85" y2="2174.85" stroke-width="1.16"/><line x1="108.9" x2="588.3" y1="2090.75" y2="2090.75" stroke-width="1.16"/><line x1="108.9" x2="588.3" y1="2006.65" y2="2006.65" stroke-width="1.16"/><line x1="108.9" x2="588.3" y1="1922.55" y2="1922.55" stroke-width="1.16"/><line x1="184.68" x2="184.68" y1="1873.4" y2="2232.55" stroke-width="1.16"/><line x1="293.93" x2="293.93" y1="1873.4" y2="2232.55" stroke-width="1.16"/><line x1="403.18" x2="403.18" y1="1873.4" y2="2232.55" stroke-width="1.16"/><line x1="512.42" x2="512.42" y1="1873.4" y2="2232.55" stroke-width="1.16"/><line x1="108.9" x2="588.3" y1="2216.9" y2="2216.9" stroke-width="2.3"/><line x1="108.9" x2="588.3" y1="2132.8" y2="2132.8" stroke-width="2.3"/><line x1="108.9" x2="588.3" y1="2048.7" y2="2048.7" stroke-width="2.3"/><line x1="108.9" x2="588.3" y1="1964.6" y2="1964.6" stroke-width="2.3"/><line x1="108.9" x2="588.3" y1="1880.5" y2="1880.5" stroke-width="2.3"/><line x1="130.05" x2="130.05" y1="1873.4" y2="2232.55" stroke-width="2.3"/><line x1="239.3" x2="239.3" y1="1873.4" y2="2232.55" stroke-width="2.3"/><line x1="348.55" x2="348.55" y1="1873.4" y2="2232.55" stroke-width="2.3"/><line x1="457.8" x2="457.8" y1="1873.4" y2="2232.55" stroke-width="2.3"/><line x1="567.05" x2="567.05" y1="1873.4" y2="2232.55" stroke-width="2.3"/></g>
<path d="M134.42 2216.9V2100.6H143.34V1889.2H152.26V1992H161.19V2083.3H170.11V2152.9H179.03V2183.3H187.95V2196.9H196.87V2203.1H205.8V2206.5H214.72V2211.5H223.64V2212.4H232.56V2213.5H241.49V2213.5H250.41V2215.1H259.33V2215.8H268.25V2216.4H277.17V2216.7H286.1V2216.9H295.02V2216.9H303.94V2216.9H312.86V2216.9H321.78V2216.9H330.71V2216.9H339.63V2216.9H348.55V2216.9H357.47V2216.9H366.39V2216.9H375.32V2216.9H384.24V2216.9H393.16V2216.9H402.08V2216.9H411V2216.9H419.93V2216.9H428.85V2216.9H437.77V2216.9H446.69V2216.9H455.62V2216.9H464.54V2216.9H473.46V2216.9H482.38V2216.9H491.3V2216.9H500.23V2216.9H509.15V2216.9H518.07V2216.9H526.99V2216.9H535.91V2216.9H544.84V2216.9H553.76V2216.9H562.68V2216.9Z" fill="#595959"/>
<g stroke="#333333" stroke-linecap="square"><path d="M108.9 2232.9V1873.4H588.3" fill="none" stroke-width="1.3"/><path d="M108.9 2232.9H588.4V1873.4" fill="none" stroke-width="1.8"/></g>
<g stroke="#333333" stroke-width="2.3"><line x1="102.2" x2="108.6" y1="2216.9" y2="2216.9"/><line x1="102.2" x2="108.6" y1="2132.8" y2="2132.8"/><line x1="102.2" x2="108.6" y1="2048.7" y2="2048.7"/><line x1="102.2" x2="108.6" y1="1964.6" y2="1964.6"/><line x1="102.2" x2="108.6" y1="1880.5" y2="1880.5"/><line x1="130.05" x2="130.05" y1="2233.3" y2="2239.3"/><line x1="239.3" x2="239.3" y1="2233.3" y2="2239.3"/><line x1="348.55" x2="348.55" y1="2233.3" y2="2239.3"/><line x1="457.8" x2="457.8" y1="2233.3" y2="2239.3"/><line x1="567.05" x2="567.05" y1="2233.3" y2="2239.3"/></g>
<g fill="#4d4d4d" font-size="19.6"><text transform="translate(96.9 2224.1) scale(1 1.04)" text-anchor="end">0</text><text transform="translate(96.9 2140) scale(1 1.04)" text-anchor="end">2500</text><text transform="translate(96.9 2055.9) scale(1 1.04)" text-anchor="end">5000</text><text transform="translate(96.9 1971.8) scale(1 1.04)" text-anchor="end">7500</text><text transform="translate(96.9 1887.7) scale(1 1.04)" text-anchor="end">10000</text><text transform="translate(130.05 2258.9) scale(1 1.04)" text-anchor="middle">0</text><text transform="translate(239.3 2258.9) scale(1 1.04)" text-anchor="middle">25</text><text transform="translate(348.55 2258.9) scale(1 1.04)" text-anchor="middle">50</text><text transform="translate(457.8 2258.9) scale(1 1.04)" text-anchor="middle">75</text><text transform="translate(567.05 2258.9) scale(1 1.04)" text-anchor="middle">100</text></g>
<text transform="translate(348.2 2289.3) scale(1 1.04)" text-anchor="middle" font-size="24.25" fill="#000">V<tspan font-size="17.08" dy="4.13" letter-spacing="-0.7">B</tspan><tspan dy="-4.13"> (2TCM) [ml/100 ml]</tspan></text>
<text transform="translate(23.61 2052.98) rotate(-90) scale(1 1.04)" text-anchor="middle" font-size="24.1" fill="#000">Frequency</text>
</g>
<g>
<g stroke="#ebebeb"><line x1="744.45" x2="1223.85" y1="2158.14" y2="2158.14" stroke-width="1.16"/><line x1="744.45" x2="1223.85" y1="2040.62" y2="2040.62" stroke-width="1.16"/><line x1="744.45" x2="1223.85" y1="1923.1" y2="1923.1" stroke-width="1.16"/><line x1="820.22" x2="820.22" y1="1873.4" y2="2232.55" stroke-width="1.16"/><line x1="929.47" x2="929.47" y1="1873.4" y2="2232.55" stroke-width="1.16"/><line x1="1038.72" x2="1038.72" y1="1873.4" y2="2232.55" stroke-width="1.16"/><line x1="1147.97" x2="1147.97" y1="1873.4" y2="2232.55" stroke-width="1.16"/><line x1="744.45" x2="1223.85" y1="2216.9" y2="2216.9" stroke-width="2.3"/><line x1="744.45" x2="1223.85" y1="2099.38" y2="2099.38" stroke-width="2.3"/><line x1="744.45" x2="1223.85" y1="1981.86" y2="1981.86" stroke-width="2.3"/><line x1="765.6" x2="765.6" y1="1873.4" y2="2232.55" stroke-width="2.3"/><line x1="874.85" x2="874.85" y1="1873.4" y2="2232.55" stroke-width="2.3"/><line x1="984.1" x2="984.1" y1="1873.4" y2="2232.55" stroke-width="2.3"/><line x1="1093.35" x2="1093.35" y1="1873.4" y2="2232.55" stroke-width="2.3"/><line x1="1202.6" x2="1202.6" y1="1873.4" y2="2232.55" stroke-width="2.3"/></g>
<path d="M769.97 2216.9V2149.5H778.89V2031.4H787.81V1889.2H796.74V1899.7H805.66V2011.4H814.58V2070.9H823.5V2114.8H832.42V2145.5H841.35V2165.9H850.27V2187H859.19V2198.8H868.11V2204H877.04V2211.4H885.96V2210.6H894.88V2212.1H903.8V2213.3H912.72V2214.9H921.65V2213.5H930.57V2214.6H939.49V2214.4H948.41V2214.8H957.33V2214.6H966.26V2214.2H975.18V2214.4H984.1V2213.7H993.02V2215.4H1001.94V2214.8H1010.87V2215.4H1019.79V2214.6H1028.71V2214.2H1037.63V2214.2H1046.55V2213.5H1055.48V2215H1064.4V2213.9H1073.32V2216.3H1082.24V2216.3H1091.16V2216.5H1100.09V2216.3H1109.01V2216.3H1117.93V2216.7H1126.85V2216.5H1135.78V2216.9H1144.7V2216.9H1153.62V2216.9H1162.54V2216.9H1171.46V2216.9H1180.39V2216.9H1189.31V2216.9H1198.23V2216.9Z" fill="#595959"/>
<g stroke="#333333" stroke-linecap="square"><path d="M744.45 2232.9V1873.4H1223.85" fill="none" stroke-width="1.3"/><path d="M744.45 2232.9H1223.95V1873.4" fill="none" stroke-width="1.8"/></g>
<g stroke="#333333" stroke-width="2.3"><line x1="737.75" x2="744.15" y1="2216.9" y2="2216.9"/><line x1="737.75" x2="744.15" y1="2099.38" y2="2099.38"/><line x1="737.75" x2="744.15" y1="1981.86" y2="1981.86"/><line x1="765.6" x2="765.6" y1="2233.3" y2="2239.3"/><line x1="874.85" x2="874.85" y1="2233.3" y2="2239.3"/><line x1="984.1" x2="984.1" y1="2233.3" y2="2239.3"/><line x1="1093.35" x2="1093.35" y1="2233.3" y2="2239.3"/><line x1="1202.6" x2="1202.6" y1="2233.3" y2="2239.3"/></g>
<g fill="#4d4d4d" font-size="19.6"><text transform="translate(732.45 2224.1) scale(1 1.04)" text-anchor="end">0</text><text transform="translate(732.45 2106.58) scale(1 1.04)" text-anchor="end">1000</text><text transform="translate(732.45 1989.06) scale(1 1.04)" text-anchor="end">2000</text><text transform="translate(765.6 2258.9) scale(1 1.04)" text-anchor="middle">0</text><text transform="translate(874.85 2258.9) scale(1 1.04)" text-anchor="middle">25</text><text transform="translate(984.1 2258.9) scale(1 1.04)" text-anchor="middle">50</text><text transform="translate(1093.35 2258.9) scale(1 1.04)" text-anchor="middle">75</text><text transform="translate(1202.6 2258.9) scale(1 1.04)" text-anchor="middle">100</text></g>
<text transform="translate(983.75 2289.3) scale(1 1.04)" text-anchor="middle" font-size="24.25" fill="#000">V<tspan font-size="17.08" dy="4.13" letter-spacing="-0.7">B</tspan><tspan dy="-4.13"> (2TCM) [ml/100 ml]</tspan></text>
<text transform="translate(670.06 2052.98) rotate(-90) scale(1 1.04)" text-anchor="middle" font-size="24.1" fill="#000">Frequency</text>
</g>
</svg>
</body></html>
